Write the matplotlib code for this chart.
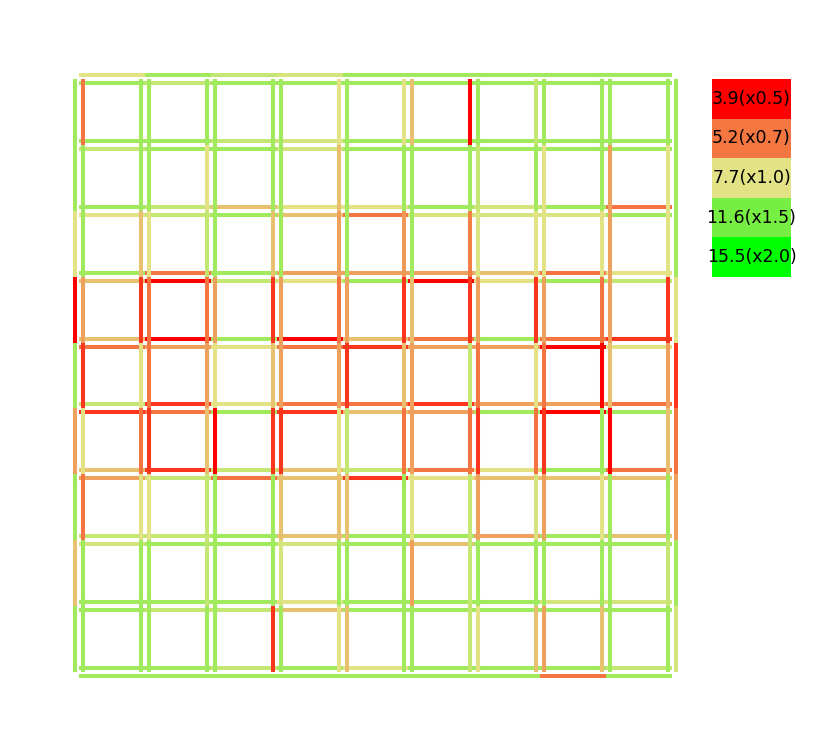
import matplotlib
matplotlib.use("Agg")
import matplotlib.pyplot as plt
from matplotlib.collections import LineCollection
from matplotlib.colors import LinearSegmentedColormap, Normalize
import numpy as np

# ---- legend / colour scale ----
legend_speeds = [3.9, 5.2, 7.7, 11.6, 15.5]
legend_labels = ["3.9(x0.5)", "5.2(x0.7)", "7.7(x1.0)", "11.6(x1.5)", "15.5(x2.0)"]
legend_colors = ["#ff0000", "#f47742", "#e3e386", "#77ee44", "#00ff00"]

# ---- speeds on each directed road segment (10x10 node grid) ----
# horizontal roads, row j (top to bottom), segment i (left to right)
h_upper = [
    [7.7, 10.1, 8.8, 8.2, 10.1, 10.1, 10.1, 10.1, 10.1],
    [10.1, 10.1, 8.8, 8.2, 10.1, 10.1, 10.1, 10.1, 10.1],
    [10.1, 8.8, 6.9, 7.7, 7.7, 10.1, 8.2, 10.1, 5.2],
    [10.1, 5.2, 10.1, 6.2, 6.2, 6.2, 6.9, 5.2, 7.7],
    [6.9, 3.9, 10.1, 3.9, 6.9, 5.2, 10.1, 5.2, 4.5],
    [8.8, 4.5, 7.7, 5.2, 5.2, 4.5, 6.2, 6.2, 5.2],
    [6.9, 4.5, 8.8, 6.9, 8.8, 5.2, 7.7, 10.1, 5.2],
    [8.8, 8.8, 10.1, 6.9, 10.1, 10.1, 6.2, 10.1, 6.9],
    [10.1, 10.1, 10.1, 7.7, 10.1, 10.1, 10.1, 8.2, 8.2],
    [10.1, 10.1, 8.8, 10.1, 7.7, 10.1, 10.1, 10.1, 8.8],
]
h_lower = [
    [10.1, 8.8, 10.1, 10.1, 10.1, 10.1, 10.1, 10.1, 10.1],
    [8.8, 10.1, 10.1, 8.2, 10.1, 10.1, 10.1, 10.1, 10.1],
    [7.7, 8.8, 10.1, 6.9, 5.2, 8.2, 8.2, 8.0, 10.1],
    [6.9, 3.9, 8.8, 7.7, 10.1, 3.9, 7.7, 10.1, 8.8],
    [5.2, 6.2, 7.7, 5.2, 4.5, 6.2, 6.2, 3.9, 7.7],
    [4.5, 5.2, 10.1, 4.5, 6.9, 6.2, 10.1, 3.9, 10.1],
    [6.2, 8.8, 5.2, 6.9, 4.5, 7.7, 6.9, 6.9, 6.9],
    [8.2, 10.1, 10.1, 8.2, 10.1, 6.9, 10.1, 10.1, 10.1],
    [10.1, 8.8, 8.8, 6.9, 10.1, 10.1, 10.1, 10.1, 10.1],
    [10.1, 10.1, 10.1, 10.1, 10.1, 10.1, 10.1, 5.2, 10.1],
]
# vertical roads, column i (left to right), segment j (top to bottom)
v_left = [
    [10.1, 10.1, 7.7, 3.9, 10.1, 6.2, 10.1, 6.9, 10.1],
    [10.1, 10.1, 6.9, 4.5, 7.7, 5.2, 7.7, 10.1, 10.1],
    [10.1, 7.7, 8.8, 5.2, 6.2, 6.9, 8.8, 8.8, 10.1],
    [10.1, 10.1, 6.9, 4.5, 6.9, 4.5, 10.1, 10.1, 4.5],
    [7.7, 6.9, 6.2, 5.2, 6.2, 7.7, 6.9, 10.1, 7.7],
    [7.7, 10.1, 6.0, 4.5, 6.9, 5.2, 10.1, 10.1, 10.1],
    [3.9, 10.1, 5.4, 4.5, 8.8, 5.2, 8.8, 8.8, 8.8],
    [8.8, 10.1, 7.7, 4.5, 7.7, 5.2, 8.2, 10.1, 6.9],
    [10.1, 10.1, 7.7, 5.2, 3.9, 10.1, 7.7, 10.1, 6.9],
    [10.1, 7.7, 7.7, 4.5, 6.2, 6.9, 10.1, 8.8, 10.1],
]
v_right = [
    [5.2, 10.1, 10.1, 6.2, 4.5, 7.7, 5.2, 10.1, 10.1],
    [10.1, 10.1, 7.7, 5.2, 5.2, 4.5, 7.7, 10.1, 10.1],
    [10.1, 10.1, 10.1, 6.2, 7.7, 3.9, 10.1, 10.1, 10.1],
    [10.1, 10.1, 10.1, 6.2, 6.2, 4.5, 6.9, 8.2, 10.1],
    [10.1, 10.1, 10.1, 6.2, 4.5, 8.8, 6.9, 10.1, 6.9],
    [6.9, 10.1, 10.1, 6.9, 6.2, 6.2, 7.7, 6.2, 10.1],
    [10.1, 8.8, 7.9, 6.2, 5.2, 4.5, 6.2, 10.1, 7.7],
    [10.1, 7.7, 7.7, 6.2, 5.2, 4.5, 6.2, 10.1, 6.2],
    [10.1, 6.2, 6.2, 6.2, 6.9, 3.9, 10.1, 10.1, 10.1],
    [10.1, 10.1, 10.1, 7.7, 4.5, 5.2, 6.2, 10.1, 8.2],
]

# ---- colormap built from legend ----
vmin, vmax = legend_speeds[0], legend_speeds[-1]
pos = [(s - vmin) / (vmax - vmin) for s in legend_speeds]
cmap = LinearSegmentedColormap.from_list("speed", list(zip(pos, legend_colors)))
norm = Normalize(vmin, vmax)

W, H = 830, 751
fig = plt.figure(figsize=(W / 100, H / 100), dpi=100)
ax = fig.add_axes([46 / W, 1 - 705 / H, 659 / W, 659 / H])
ax.set_xlim(-0.5, 9.5)
ax.set_ylim(9.5, -0.5)
ax.axis("off")

off = 4 / 65.9  # perpendicular offset between the two directions
segs, vals = [], []
for j in range(10):
    for i in range(9):
        segs.append([(i, j - off), (i + 1, j - off)]); vals.append(h_upper[j][i])
        segs.append([(i, j + off), (i + 1, j + off)]); vals.append(h_lower[j][i])
for i in range(10):
    for j in range(9):
        segs.append([(i - off, j), (i - off, j + 1)]); vals.append(v_left[i][j])
        segs.append([(i + off, j), (i + off, j + 1)]); vals.append(v_right[i][j])

lc = LineCollection(segs, colors=cmap(norm(np.array(vals))), linewidths=2.9,
                    capstyle="butt")
ax.add_collection(lc)

# ---- legend ----
lax = fig.add_axes([712 / W, 1 - 277 / H, 79 / W, 198 / H])
lax.set_xlim(0, 1)
lax.set_ylim(len(legend_speeds), 0)
lax.axis("off")
for k, (lab, c) in enumerate(zip(legend_labels, legend_colors)):
    lax.add_patch(plt.Rectangle((0, k), 1, 1, facecolor=c, edgecolor="none"))
    lax.text(0.5, k + 0.5, lab, ha="center", va="center", fontsize=12.5,
             color="black", clip_on=False)

fig.savefig("out.png", dpi=100)
